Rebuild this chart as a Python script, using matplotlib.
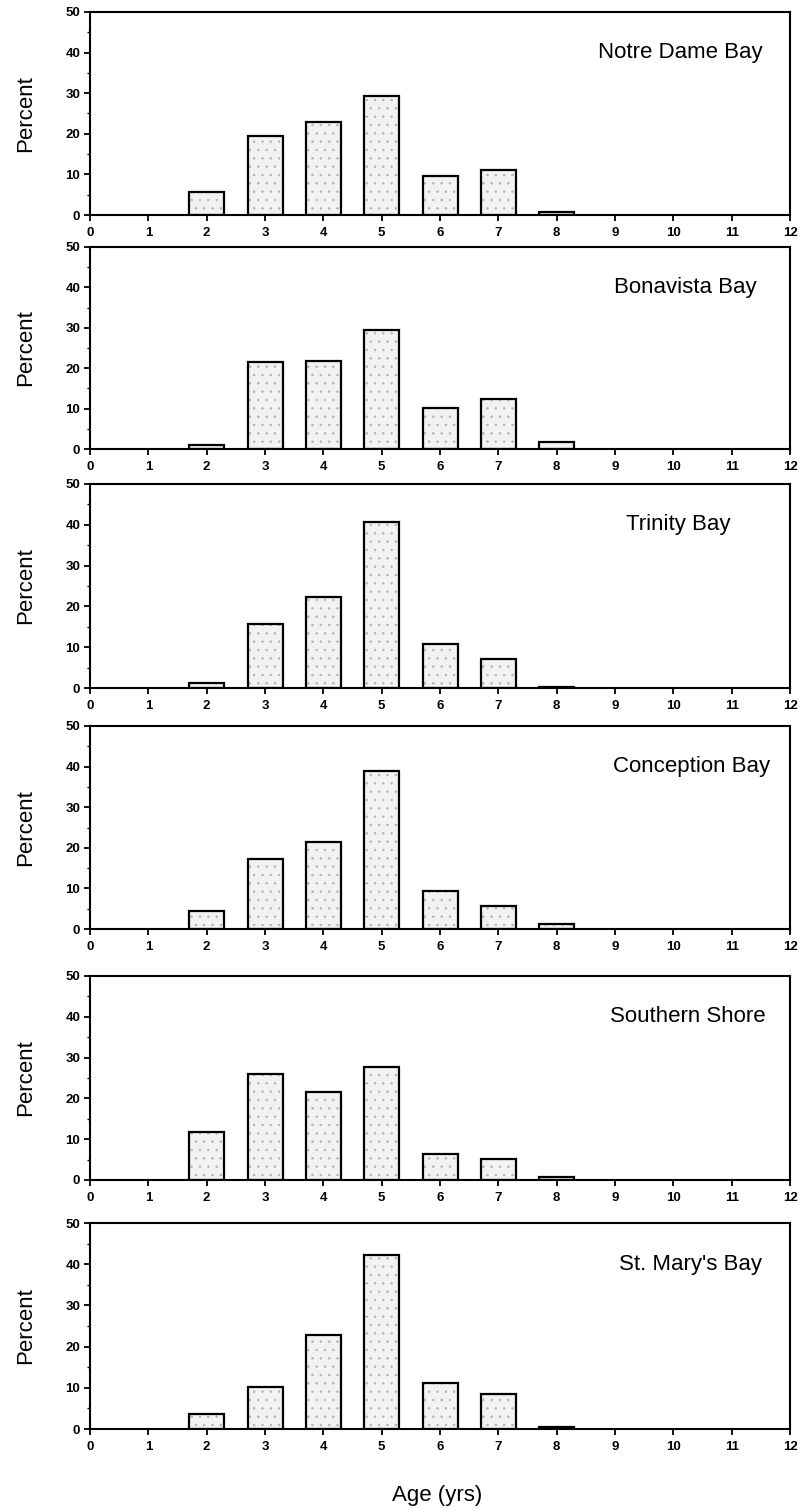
import matplotlib
matplotlib.use("Agg")
import matplotlib.pyplot as plt
from matplotlib.ticker import MultipleLocator

plt.rcParams['font.family'] = ['Liberation Sans', 'DejaVu Sans']
plt.rcParams['hatch.linewidth'] = 0.5

# Age classes (years) with non-zero catch share
ages = [2, 3, 4, 5, 6, 7, 8]

# Percent of sample in each age class, by area
notre_dame = [5.6, 19.4, 22.9, 29.4, 9.6, 11.0, 0.8]
bonavista = [1.0, 21.6, 21.9, 29.5, 10.1, 12.3, 1.8]
trinity = [1.3, 15.7, 22.4, 40.6, 10.7, 7.2, 0.3]
conception = [4.5, 17.2, 21.4, 38.9, 9.4, 5.7, 1.2]
southern_shore = [11.8, 26.0, 21.5, 27.8, 6.4, 5.1, 0.8]
st_marys = [3.7, 10.2, 22.7, 42.2, 11.1, 8.5, 0.4]

areas = ["Notre Dame Bay", "Bonavista Bay", "Trinity Bay",
         "Conception Bay", "Southern Shore", "St. Mary's Bay"]
series = [notre_dame, bonavista, trinity, conception, southern_shore, st_marys]
x_ticks = list(range(0, 13))
y_ticks = [0, 10, 20, 30, 40, 50]

W, H = 802, 1510
fig = plt.figure(figsize=(W / 100, H / 100), dpi=100)

# panel pixel extents (top, bottom) and horizontal span
panel_rows = [(12, 215), (247, 449), (484, 688), (726, 929), (976, 1180), (1223, 1429)]
x_left, x_right = 90, 790
title_right = [763, 757, 730, 770, 766, 762]

for (top, bot), name, vals, tr in zip(panel_rows, areas, series, title_right):
    ax = fig.add_axes([x_left / W, 1 - bot / H, (x_right - x_left) / W, (bot - top) / H])
    # stippled fill, then the black outline on top
    ax.bar(ages, vals, width=0.6, color='#f2f2f2', edgecolor='#b0b0b0',
           hatch='..', linewidth=0, zorder=2)
    ax.bar(ages, vals, width=0.6, fill=False, edgecolor='black',
           linewidth=1.6, zorder=3)
    ax.set_xlim(0, 12)
    ax.set_ylim(0, 50)
    ax.set_xticks(x_ticks)
    ax.set_yticks(y_ticks)
    ax.yaxis.set_minor_locator(MultipleLocator(5))
    ax.tick_params(axis='both', which='major', direction='out', length=4.5,
                   width=1.3, labelsize=9.5, pad=2.5)
    ax.tick_params(axis='x', which='major', pad=4)
    ax.tick_params(axis='y', which='minor', direction='out', length=2.5, width=1.0)
    for lbl in ax.get_xticklabels() + ax.get_yticklabels():
        lbl.set_fontweight('bold')
    for sp in ax.spines.values():
        sp.set_linewidth(1.5)
    ax.set_ylabel("Percent", fontsize=16, labelpad=21)
    ax.text((tr - x_left) / (x_right - x_left), 0.80, name, transform=ax.transAxes,
            ha='right', va='center', fontsize=16)

fig.text(437 / W, 1 - 1495 / H, "Age (yrs)", ha='center', va='center', fontsize=16)

fig.savefig("out.png", dpi=100)
